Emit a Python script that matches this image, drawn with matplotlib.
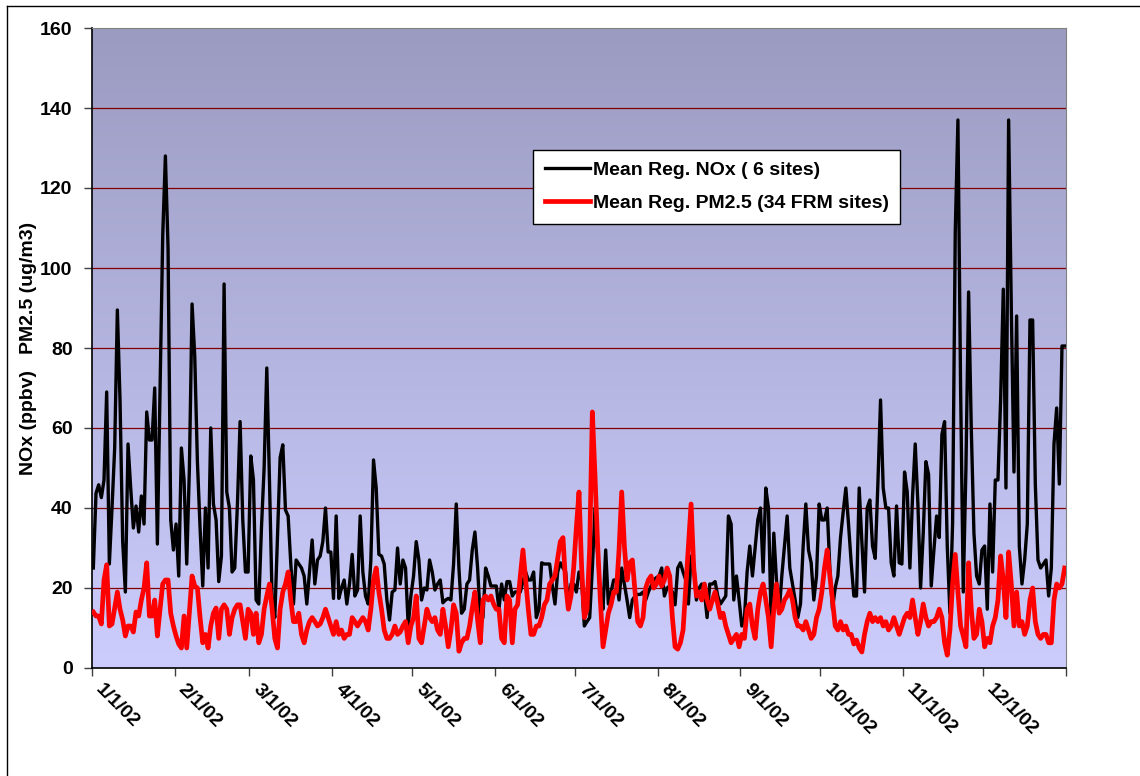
import numpy as np
import pandas as pd
import matplotlib
matplotlib.use('Agg')
import matplotlib.pyplot as plt
import matplotlib.transforms as mtransforms
from matplotlib.colors import LinearSegmentedColormap
from matplotlib.lines import Line2D

plt.rcParams['font.family'] = ['Liberation Sans', 'DejaVu Sans']
plt.rcParams['font.weight'] = 'bold'

# daily values for 2002
nox = [
    25, 43.7, 45.8, 42.6, 47, 69, 26, 40, 55, 89.5, 67, 31.6, 19, 56, 45, 35, 40.5, 34, 43, 36,
    64, 57, 57, 70, 31, 70, 108, 128, 105, 37, 29.5, 36, 23, 55, 47, 26, 50, 91, 78, 51.6,
    35, 20.5, 40, 25, 60, 41, 37, 21.6, 28, 96, 44, 40, 24, 25, 41, 61.6, 37, 24, 24, 53,
    47, 17, 16, 35, 50, 75, 47, 17, 12.6, 33, 52.6, 55.8, 39.5, 38, 26, 16, 27, 26, 25, 23,
    16, 24, 32, 21, 27, 28, 31.6, 40, 29, 29, 17.4, 38, 17.4, 20, 22, 16, 21, 28.4, 18, 19.5,
    38, 24, 18, 16, 27, 52, 45, 28.4, 28, 26, 17, 12, 19, 19.5, 30, 21, 27, 25, 10.5, 18,
    23, 31.6, 27, 17, 20, 19.5, 27, 24, 19.5, 21, 22, 16.3, 17, 17.4, 17, 26, 41, 25, 13.7, 14.7,
    21, 22, 29.5, 34, 25, 12.6, 12.6, 25, 23, 20.5, 20.5, 20.5, 14.7, 21, 17, 21.6, 21.6, 18, 19, 19,
    19, 21.6, 24, 22, 22, 24, 12.6, 14.7, 26.3, 26, 26, 26, 20.5, 16, 24, 26.3, 25, 24, 16, 21,
    21, 19, 24, 22, 10.5, 11.6, 12.6, 25, 40, 28.4, 18, 14.7, 29.5, 16, 19, 22, 22, 17, 25, 21,
    17, 12.6, 17, 18, 18.4, 18.4, 19, 17, 19, 20.5, 22, 22.6, 23, 25, 18, 20, 20.5, 19, 15.8, 25,
    26.3, 24, 22, 16, 28, 26, 17, 20, 21, 19, 12.6, 21, 21, 21.6, 18, 16, 17, 18, 38, 36,
    17, 23, 17, 10.5, 12.6, 24, 30.5, 23, 30, 37, 40, 24, 45, 40, 11.6, 33.7, 22, 13.7, 23, 30.5,
    38, 25, 21, 17, 12.6, 16, 30.5, 41, 29.5, 26.3, 17, 23, 41, 37, 37, 40, 25, 14.7, 20, 23,
    32.6, 39, 45, 36, 26.3, 18, 18, 45, 31.6, 19, 40, 42, 30.5, 27.4, 46, 67, 45, 40, 40, 26.3,
    23, 40.5, 26.3, 26, 49, 44, 25, 43, 56, 41, 20, 33.7, 51.6, 48.4, 20.5, 29.5, 38, 32.6, 58.4, 61.6,
    30.5, 13.7, 36, 109, 137, 70, 19, 50, 94, 60, 33.7, 23, 21, 29.5, 30.5, 14.7, 41, 24, 47, 47,
    67, 94.7, 45, 137, 90, 49, 88, 30.5, 21, 27, 36, 87, 87, 46, 27, 25, 26, 27, 18, 25,
    56, 65, 46, 80.5, 80.5,
]

pm25 = [
    14, 13, 13, 11, 22, 25.8, 10.5, 11, 15, 19, 14.7, 12, 8, 10.5, 10.5, 9, 14, 13, 17, 20,
    26.3, 13, 13, 17, 8, 14.7, 21, 22, 22, 13.7, 10.5, 8, 6, 5, 13, 5, 14, 23, 20.5, 20,
    12.6, 6.3, 8.4, 5, 10.5, 13.7, 15, 7.4, 14.7, 15.8, 14.7, 8.4, 12.6, 14.7, 15.8, 15.8, 11.6, 7.4, 14.7, 13.7,
    8.4, 13.7, 6.3, 8.4, 14.7, 18, 21, 14.7, 7.4, 5, 14.7, 19, 21, 24, 17, 11.6, 11.6, 13.7, 8.4, 6.3,
    9.5, 11.6, 12.6, 11.6, 10.5, 11, 12.6, 14.7, 12.6, 10.5, 8.4, 11.6, 8.4, 9.5, 7.4, 8.4, 8.4, 12.6, 11.6, 10.5,
    11.6, 12.6, 11.6, 9.5, 14.7, 22, 25, 19, 14.7, 9.5, 7.4, 7.4, 8.4, 10.5, 8.4, 9, 10.5, 11.6, 6.3, 10.5,
    12.6, 18, 7.4, 6.3, 10.5, 14.7, 12.6, 11.6, 12.6, 9.5, 8.4, 14.7, 10.5, 5.3, 9.5, 15.8, 13.7, 4.2, 6.3, 7.4,
    7.4, 10.5, 15, 19, 12, 6.3, 17, 18, 17, 18, 16, 14.7, 14.7, 7.4, 6.3, 18, 17, 6.3, 14.7, 15.8,
    23, 29.5, 22, 14.7, 8.4, 8.4, 10.5, 10.5, 12.6, 15.8, 17, 21, 22, 23, 27.4, 31.6, 32.6, 21, 14.7, 18,
    25, 35, 44, 25, 12.6, 14.7, 30, 64, 48, 30.5, 17, 5.3, 9.5, 13.7, 15.8, 19, 19, 29.5, 44, 30.5,
    22, 26.3, 27, 19, 11.6, 10.5, 12.6, 20, 22, 23, 20, 21, 23, 20.5, 22, 25, 23, 12.6, 5.3, 4.7,
    6.3, 9.5, 20, 30.5, 41, 25, 18, 19, 17, 21, 17, 14.7, 17, 19, 16, 12.6, 13.7, 10.5, 8.4, 6.3,
    7.4, 8.4, 5.3, 8.4, 7.4, 14.7, 16, 10.5, 7.4, 14.7, 19, 21, 17, 12.6, 5.3, 14.7, 21, 13.7, 14.7, 17,
    18, 19.5, 17, 12.6, 10.5, 10.5, 9.5, 11.6, 9.5, 7.4, 8.4, 12.6, 14.7, 19, 25, 29.5, 23, 17, 10.5, 9.5,
    11.6, 9.5, 10.5, 8.4, 8.4, 6, 7, 5, 4, 8.4, 11.6, 13.7, 11.6, 12.6, 11.6, 12.6, 10.5, 11.6, 9.5, 10.5,
    12.6, 10.5, 8.4, 10.5, 12.6, 13.7, 12.6, 17, 12.6, 8.4, 11.6, 16, 12.6, 10.5, 11.6, 11.6, 12.6, 14.7, 12.6, 6.3,
    3.2, 9.5, 21, 28.4, 19, 10.5, 8, 5.3, 26.3, 14.7, 7.4, 8.4, 14.7, 11.6, 5.3, 7.4, 6.3, 10.5, 12.6, 17,
    28, 22, 12.6, 29, 21, 10.5, 19, 10.5, 11.6, 8.4, 10.5, 17, 20, 11.6, 8.4, 7.4, 8.4, 8.4, 6.3, 6.3,
    17, 21, 20, 21, 25,
]

y_ticks = [0, 20, 40, 60, 80, 100, 120, 140, 160]
nox_label = 'Mean Reg. NOx ( 6 sites)'
pm_label = 'Mean Reg. PM2.5 (34 FRM sites)'

start = pd.Timestamp('2002-01-01')
months = pd.date_range('2002-01-01', periods=12, freq='MS')
month_pos = (months - start).days.values
month_labels = [f'{m.month}/1/02' for m in months]
days = np.arange(len(nox))

fig = plt.figure(figsize=(11.4, 7.76), dpi=100)
ax = fig.add_axes([92 / 1140, 108 / 776, 974 / 1140, 640 / 776])

# gradient background of the plot area
cmap = LinearSegmentedColormap.from_list('bg', ['#cccdfd', '#9b9bc1'])
ax.imshow(np.linspace(0, 1, 256).reshape(-1, 1), aspect='auto', cmap=cmap,
          extent=[0, 365, 0, 160], origin='lower', zorder=0)

for yv in y_ticks[1:-1]:
    ax.axhline(yv, color='#800000', linewidth=0.9, zorder=1)

ax.plot(days + 0.5, nox, color='black', linewidth=2.4, zorder=3)
ax.plot(days + 0.5, pm25, color='#ff0000', linewidth=3.4, zorder=4)

ax.set_xlim(0, 365)
ax.set_ylim(0, 160)
ax.set_yticks(y_ticks)
ax.set_yticklabels([str(v) for v in y_ticks], fontsize=14, fontweight='bold')
ax.set_xticks(list(month_pos) + [365])
ax.set_xticklabels(month_labels + [''], fontsize=14, fontweight='bold',
                   rotation=-45, ha='left', va='top', rotation_mode='anchor')
ax.tick_params(axis='both', direction='out', length=6, width=1, color='#404040')
ax.tick_params(axis='x', pad=3)
ax.tick_params(axis='y', pad=8)

# shift the date labels a little to the right, as in the original
shift = mtransforms.ScaledTranslation(12 / 100, 0, fig.dpi_scale_trans)
for lbl in ax.get_xticklabels():
    lbl.set_transform(lbl.get_transform() + shift)

for side in ['top', 'right']:
    ax.spines[side].set_color('#808080')
for side in ['left', 'bottom']:
    ax.spines[side].set_color('black')
    ax.spines[side].set_linewidth(1.2)

ax.set_ylabel('NOx (ppbv)   PM2.5 (ug/m3)', fontsize=14, fontweight='bold', labelpad=2)

handles = [Line2D([], [], color='black', linewidth=2.4),
           Line2D([], [], color='#ff0000', linewidth=3.4)]
leg = ax.legend(handles, [nox_label, pm_label], loc='upper left',
                bbox_to_anchor=(0.453, 0.81), fontsize=14, frameon=True, fancybox=False,
                framealpha=1, handlelength=2.3, handletextpad=0.15, borderpad=0.6,
                labelspacing=0.8, borderaxespad=0)
leg.get_frame().set_edgecolor('black')
leg.get_frame().set_facecolor('white')
leg.get_frame().set_linewidth(1)
for t in leg.get_texts():
    t.set_fontweight('bold')

# outer chart border
fig.add_artist(Line2D([7 / 1140, 7 / 1140], [0, 1 - 6 / 776], color='black',
                      linewidth=1, transform=fig.transFigure))
fig.add_artist(Line2D([7 / 1140, 1], [1 - 6 / 776, 1 - 6 / 776], color='black',
                      linewidth=1, transform=fig.transFigure))

fig.savefig('out.png', dpi=100, facecolor='white')
